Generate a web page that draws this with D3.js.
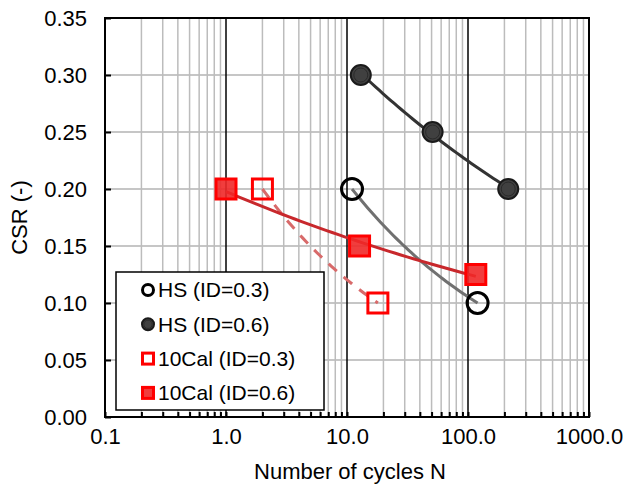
<!DOCTYPE html>
<html>
<head>
<meta charset="utf-8">
<script src="https://cdn.jsdelivr.net/npm/d3@7"></script>
<style>
  body { margin: 0; background: #fff; }
  svg { font-family: "Liberation Sans", Arial, sans-serif; }
</style>
</head>
<body>
<svg id="chart" width="632" height="488"></svg>
<script>
// values
const hs03N = [11, 120];
const hs03CSR = [0.20, 0.10];
const hs06N = [13, 51, 215];
const hs06CSR = [0.30, 0.25, 0.20];
const cal03N = [2.0, 18];
const cal03CSR = [0.20, 0.10];
const cal06N = [1.0, 12.7, 116];
const cal06CSR = [0.20, 0.15, 0.125];

const xTickLabels = ["0.1", "1.0", "10.0", "100.0", "1000.0"];
const yTicks = [0, 0.05, 0.10, 0.15, 0.20, 0.25, 0.30, 0.35];
const legendLabels = ["HS (ID=0.3)", "HS (ID=0.6)", "10Cal (ID=0.3)", "10Cal (ID=0.6)"];

const pLeft = 105, pRight = 589, pTop = 18, pBottom = 417;
const svg = d3.select("#chart");

const x = d3.scaleLog().domain([0.1, 1000]).range([pLeft, pRight]);
const y = d3.scaleLinear().domain([0, 0.35]).range([pBottom, pTop]);

// minor + major decades for the log grid
const majors = xTickLabels.map(Number);
const minors = [];
majors.slice(0, -1).forEach(m => {
  for (let k = 2; k <= 9; k++) minors.push(m * k);
});

const grid = svg.append("g");
grid.selectAll("line.h")
  .data(yTicks.slice(1, -1))
  .join("line")
  .attr("x1", pLeft).attr("x2", pRight)
  .attr("y1", d => y(d)).attr("y2", d => y(d))
  .attr("stroke", "#b3b3b3").attr("stroke-width", 1.5);
grid.selectAll("line.minor")
  .data(minors)
  .join("line")
  .attr("x1", d => x(d)).attr("x2", d => x(d))
  .attr("y1", pTop).attr("y2", pBottom)
  .attr("stroke", "#bcbcbc").attr("stroke-width", 1.5);
grid.selectAll("line.major")
  .data(majors.slice(1, -1))
  .join("line")
  .attr("x1", d => x(d)).attr("x2", d => x(d))
  .attr("y1", pTop).attr("y2", pBottom)
  .attr("stroke", "#000").attr("stroke-width", 1.5);

// axes
const xAxis = svg.append("g")
  .attr("transform", `translate(0,${pBottom})`)
  .call(d3.axisBottom(x)
    .tickValues(majors.concat(minors))
    .tickSize(-5)
    .tickPadding(11)
    .tickFormat(d => {
      const i = majors.indexOf(d);
      return i >= 0 ? xTickLabels[i] : "";
    }));
const yAxis = svg.append("g")
  .attr("transform", `translate(${pLeft},0)`)
  .call(d3.axisLeft(y).tickValues(yTicks).tickSize(-6).tickPadding(18).tickFormat(d3.format(".2f")));
[xAxis, yAxis].forEach(a => {
  a.select(".domain").remove();
  a.selectAll(".tick line").attr("stroke", "#000").attr("stroke-width", 2);
  a.selectAll("text").attr("font-size", 22).attr("fill", "#000")
    .attr("font-family", "'Liberation Sans', Arial, sans-serif");
});

svg.append("rect")
  .attr("x", pLeft).attr("y", pTop)
  .attr("width", pRight - pLeft).attr("height", pBottom - pTop)
  .attr("fill", "none").attr("stroke", "#000").attr("stroke-width", 2);

// power-law trendlines through each set (as the spreadsheet did)
function powerFit(ns, vs) {
  const lx = ns.map(Math.log), ly = vs.map(Math.log);
  const mx = d3.mean(lx), my = d3.mean(ly);
  const b = d3.sum(lx, (v, i) => (v - mx) * (ly[i] - my)) / d3.sum(lx, v => (v - mx) ** 2);
  const a = Math.exp(my - b * mx);
  const [n0, n1] = d3.extent(ns);
  return d3.range(41).map(i => {
    const n = Math.exp(Math.log(n0) + (Math.log(n1) - Math.log(n0)) * i / 40);
    return [n, a * Math.pow(n, b)];
  });
}
const line = d3.line().x(d => x(d[0])).y(d => y(d[1]));

const trends = [
  { n: hs03N, v: hs03CSR, color: "#707070", dash: null },
  { n: hs06N, v: hs06CSR, color: "#333333", dash: null },
  { n: cal03N, v: cal03CSR, color: "#d86a6a", dash: "11,9" },
  { n: cal06N, v: cal06CSR, color: "#c8282c", dash: null }
];
svg.append("g").selectAll("path")
  .data(trends)
  .join("path")
  .attr("d", d => line(powerFit(d.n, d.v)))
  .attr("fill", "none")
  .attr("stroke", d => d.color)
  .attr("stroke-width", 3)
  .attr("stroke-dasharray", d => d.dash);

// marker drawing helpers
function openCircle(g, r) {
  g.append("circle").attr("r", r).attr("fill", "none").attr("stroke", "#000").attr("stroke-width", 3);
}
function fullCircle(g, r) {
  g.append("circle").attr("r", r).attr("fill", "#404040").attr("stroke", "#1a1a1a").attr("stroke-width", 2);
  g.append("circle").attr("r", r * 0.7).attr("fill", "none").attr("stroke", "#2a2a2a").attr("stroke-width", 1);
}
function openSquare(g, s) {
  g.append("rect").attr("x", -s / 2).attr("y", -s / 2).attr("width", s).attr("height", s)
    .attr("fill", "none").attr("stroke", "#ff0000").attr("stroke-width", 3);
}
function fullSquare(g, s) {
  g.append("rect").attr("x", -s / 2).attr("y", -s / 2).attr("width", s).attr("height", s)
    .attr("fill", "rgba(240,40,40,0.9)").attr("stroke", "#ff0000").attr("stroke-width", 3);
}

const series = [
  { n: hs03N, v: hs03CSR, draw: g => openCircle(g, 10.5), legend: g => openCircle(g, 5.5) },
  { n: hs06N, v: hs06CSR, draw: g => fullCircle(g, 10), legend: g => fullCircle(g, 6) },
  { n: cal03N, v: cal03CSR, draw: g => openSquare(g, 20), legend: g => openSquare(g, 11) },
  { n: cal06N, v: cal06CSR, draw: g => fullSquare(g, 20), legend: g => fullSquare(g, 11) }
];
const marks = svg.append("g");
series.forEach(s => {
  s.n.forEach((n, i) => {
    const g = marks.append("g").attr("transform", `translate(${x(n)},${y(s.v[i])})`);
    s.draw(g);
  });
});

// legend
const legend = svg.append("g");
legend.append("rect")
  .attr("x", 116).attr("y", 272).attr("width", 208).attr("height", 138)
  .attr("fill", "#fff").attr("stroke", "#000").attr("stroke-width", 1.5);
series.forEach((s, i) => {
  const cy = 290 + i * 34.3;
  s.legend(legend.append("g").attr("transform", `translate(148,${cy})`));
  legend.append("text")
    .attr("x", 158).attr("y", cy).attr("dy", "0.35em")
    .attr("font-size", 21).text(legendLabels[i]);
});

// axis titles
svg.append("text")
  .attr("x", 350).attr("y", 479)
  .attr("text-anchor", "middle").attr("font-size", 22)
  .text("Number of cycles N");
svg.append("text")
  .attr("transform", `translate(27,${(pTop + pBottom) / 2}) rotate(-90)`)
  .attr("text-anchor", "middle").attr("font-size", 22)
  .text("CSR (-)");
</script>
</body>
</html>
